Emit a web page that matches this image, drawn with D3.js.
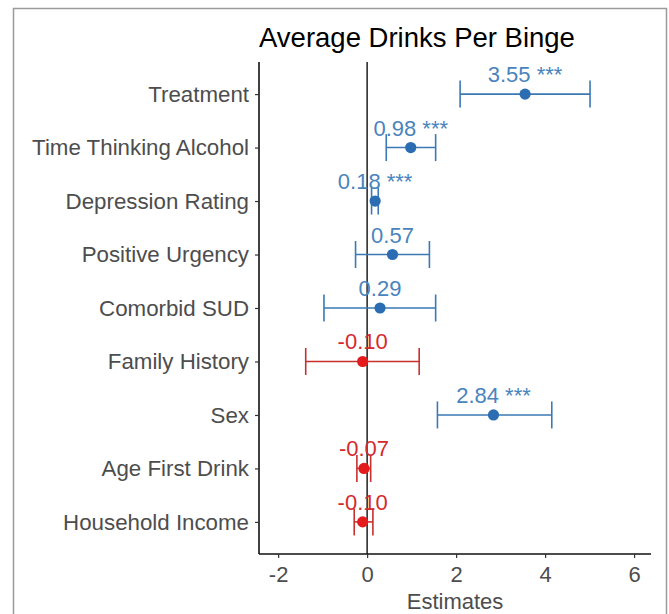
<!DOCTYPE html>
<html>
<head>
<meta charset="utf-8">
<script src="https://cdn.jsdelivr.net/npm/d3@7"></script>
<style>
  body { margin: 0; background: #fff; }
  svg { display: block; font-family: "Liberation Sans", Arial, sans-serif; }
</style>
</head>
<body>
<svg id="chart" width="669" height="614"></svg>
<script>
// data
var terms = ["Treatment", "Time Thinking Alcohol", "Depression Rating", "Positive Urgency",
             "Comorbid SUD", "Family History", "Sex", "Age First Drink", "Household Income"];
var estimates = [3.55, 0.98, 0.18, 0.57, 0.29, -0.10, 2.84, -0.07, -0.10];
var ciLow  = [2.09, 0.43, 0.10, -0.26, -0.97, -1.38, 1.58, -0.23, -0.29];
var ciHigh = [5.01, 1.54, 0.25, 1.40, 1.54, 1.17, 4.15, 0.08, 0.13];
var stars  = ["***", "***", "***", "", "", "", "***", "", ""];
var xTicks = [-2, 0, 2, 4, 6];

var svg = d3.select("#chart");

// outer frame
svg.append("path")
  .attr("d", "M13.5,614 L13.5,8.5 L666.5,8.5 L666.5,614")
  .attr("fill", "none")
  .attr("stroke", "#9a9a9a")
  .attr("stroke-width", 1.5);

var x = d3.scaleLinear().domain([-2.43, 6.38]).range([259, 651]);
var y = d3.scalePoint().domain(terms).range([62, 554]).padding(0.6);

var blue = { bar: "#3b79b4", pt: "#2a6db3", txt: "#4a84bd" };
var red  = { bar: "#c8302d", pt: "#e41a1c", txt: "#d42a2c" };
function col(v) { return v >= 0 ? blue : red; }

// axes
var xAxis = svg.append("g").attr("transform", "translate(0,554)")
  .call(d3.axisBottom(x).tickValues(xTicks).tickSize(4).tickPadding(4).tickFormat(d3.format("d")));
xAxis.select(".domain").attr("stroke", "#111").attr("stroke-width", 1.6)
  .attr("d", "M259,0H651");
xAxis.selectAll(".tick line").attr("stroke", "#333").attr("stroke-width", 1.2);
xAxis.selectAll(".tick text").attr("fill", "#4d4d4d")
  .style("font-size", "22px").attr("dy", "0.92em")
  .text(function(d) { return d < 0 ? "-" + Math.abs(d) : d; });

var yAxis = svg.append("g").attr("transform", "translate(259,0)")
  .call(d3.axisLeft(y).tickSize(4).tickPadding(6));
yAxis.select(".domain").attr("stroke", "#111").attr("stroke-width", 1.6)
  .attr("d", "M0,62V554");
yAxis.selectAll(".tick line").attr("stroke", "#333").attr("stroke-width", 1.2);
yAxis.selectAll(".tick text").attr("fill", "#4d4d4d").style("font-size", "22.3px");

// zero line
svg.append("line")
  .attr("x1", x(0)).attr("x2", x(0)).attr("y1", 62).attr("y2", 554)
  .attr("stroke", "#111").attr("stroke-width", 1.4);

var rows = terms.map(function(t, i) {
  return { term: t, est: estimates[i], lo: ciLow[i], hi: ciHigh[i], sig: stars[i] };
});

var g = svg.append("g").selectAll("g").data(rows).enter().append("g");

// error bars
var cap = 13.5;
g.append("line")
  .attr("x1", function(d) { return x(d.lo); }).attr("x2", function(d) { return x(d.hi); })
  .attr("y1", function(d) { return y(d.term); }).attr("y2", function(d) { return y(d.term); })
  .attr("stroke", function(d) { return col(d.est).bar; }).attr("stroke-width", 1.6);
g.append("line")
  .attr("x1", function(d) { return x(d.lo); }).attr("x2", function(d) { return x(d.lo); })
  .attr("y1", function(d) { return y(d.term) - cap; }).attr("y2", function(d) { return y(d.term) + cap; })
  .attr("stroke", function(d) { return col(d.est).bar; }).attr("stroke-width", 1.6);
g.append("line")
  .attr("x1", function(d) { return x(d.hi); }).attr("x2", function(d) { return x(d.hi); })
  .attr("y1", function(d) { return y(d.term) - cap; }).attr("y2", function(d) { return y(d.term) + cap; })
  .attr("stroke", function(d) { return col(d.est).bar; }).attr("stroke-width", 1.6);

// points
g.append("circle")
  .attr("cx", function(d) { return x(d.est); })
  .attr("cy", function(d) { return y(d.term); })
  .attr("r", 5.6)
  .attr("fill", function(d) { return col(d.est).pt; });

// value labels
g.append("text")
  .attr("x", function(d) { return x(d.est); })
  .attr("y", function(d) { return y(d.term) - 12; })
  .attr("text-anchor", "middle")
  .attr("fill", function(d) { return col(d.est).txt; })
  .style("font-size", "22px")
  .text(function(d) {
    var s = d.est < 0 ? "-" + Math.abs(d.est).toFixed(2) : d.est.toFixed(2);
    return d.sig ? s + " " + d.sig : s;
  });

// title and axis label
svg.append("text").attr("x", 259).attr("y", 47)
  .attr("fill", "#000").style("font-size", "27.5px")
  .text("Average Drinks Per Binge");
svg.append("text").attr("x", 455).attr("y", 609)
  .attr("text-anchor", "middle").attr("fill", "#4d4d4d").style("font-size", "22px")
  .text("Estimates");
</script>
</body>
</html>
